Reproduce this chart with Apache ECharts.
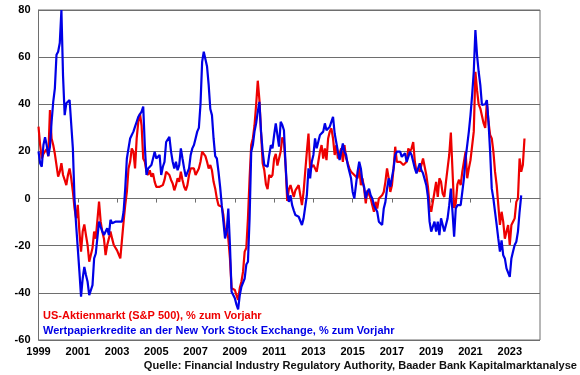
<!DOCTYPE html>
<html>
<head>
<meta charset="utf-8">
<script src="https://cdn.jsdelivr.net/npm/echarts@6/dist/echarts.min.js"></script>
<style>
html,body{margin:0;padding:0;background:#fff;}
#chart{width:580px;height:375px;}
</style>
</head>
<body>
<div id="chart"></div>
<script>
// Monthly values, starting January 1999 (year-over-year change, %)
const startYear = 1999;
const redValues = [
30.5, 22.7, 17, 19, 20, 21, 18, 37.6, 25.5, 22.7,
19, 18.5, 9.3, 11.4, 15, 10, 7.9, 5.7, 10, 12.8,
8.6, 3, -4, -8.4, -2.7, -14, -22.5, -14, -11, -15.5,
-19.7, -26.8, -27.5, -21, -14, -17, -17, -1.3, -9.8, -14,
-17, -24, -19.7, -17, -14, -17, -19.7, -19.7, -22, -22.5,
-25.4, -26, -9.8, -2.8, 2.8, 12.8, 15.6, 21.3, 19.9, 12.8,
25.5, 32.6, 36, 31, 17, 15.6, 11.4, 10, 12, 9.3,
10.7, 7.1, 5, 5.7, 5, 5, 5.7, 7.9, 11.4, 12,
10, 7.9, 6.4, 3.5, 5.7, 8.6, 7.1, 11.4, 7.9, 5,
3.5, 5.7, 10, 12.8, 13.5, 12.8, 10, 11.4, 12.8, 15.6,
19.9, 19.9,
18, 15.6, 12.8, 14.2, 12, 7.1, 4.2, 0, -2.8, -2.8,
-3.5, -7, -14, -12.6, -17, -25.4, -38, -38.8, -38.8, -41,
-43, -38, -35.3, -31, -22.5, -21, -8.4, 8.6, 22.7, 25.5,
31, 39.7, 50, 42, 28, 15, 12, 6, 4, 10,
9, 10, 17, 19, 14, 14, 20, 26, 24, 14,
-1, 4,
5.7, 5, 0.7, 3.5, 4.2, 5.7, 1.4, -2.8, 2.8, 11.4,
19.9, 27.6, 12.8, 13.5, 14.2, 13.5, 11.4, 15.6, 19.9, 22.7,
17, 21.3, 16.3, 25.5, 28.4, 29.8, 25.5, 18.5, 22.7, 17,
19.2, 21.3, 15.6, 22.7, 17, 15, 12.8, 11.4, 10.7, 10,
10.7, 8.6, 13.5, 5.7, 8.6, 4.2, -2, 3.5, 4.2, 0,
-2.8, -5.6,
-1.4, -4.2, 0, 0, 1.4, 2.8, 7.1, 12.8, 8.6, 2.8,
5.7, 12.8, 22, 15.6, 15, 15.6, 15, 14.2, 14.2, 15.6,
21.3, 19.9, 21.3, 24, 15.6, 11.4, 12.8, 11.4, 14.2, 17,
16.3, 10, 5, -2.8, -5.6, -1.4, 2.8, 7.1, 0.7, 8.6,
7.1, 2.1, 0.7, 7.1, 12.8, 18.5, 28, 12, -4, -2,
6, 8,
5.7, 11.4, 15.6, 19.9, 8.6, 12.8, 16.3, 15.6, 28.4, 53.8,
46, 40, 38.3, 37.5, 32, 30, 41, 32.6, 27, 25.5,
19.9, 11.4, 5.7, -2.8, -11.2, -5.6, -9.8, -17, -14, -11.2,
-19.7, -11.2, -9.8, -8.4, -1.4, 0, 17, 11.4, 14.2, 25.5
];
const blueValues = [
20, 15, 13.5, 22.7, 26, 22.7, 18, 22, 32.6, 41,
46.8, 61, 62.3, 66, 80, 52, 35.4, 40.4, 39.7, 41.8,
42.5, 21.3, 0, -11.2, -21, -31, -41.6, -33.9, -29, -32.4,
-35.3, -41, -41.6, -36.7, -25.4, -23.3, -22.5, -9.8, -12, -14,
-15.5, -14, -12.6, -15.5, -9, -10.5, -9.8, -9.8, -9, -9.8,
-9.8, -9.8, -5.6, 4.2, 17, 21.3, 25.5, 27, 28.4, 30.5,
32.6, 34.7, 35.4, 36.9, 39, 22, 10, 12.8, 12.8, 14.2,
17, 19.9, 17, 17.7, 18.5, 10, 13.5, 15.6, 24, 24,
26.2, 19.9, 15.6, 12.8, 15.6, 12, 14.2, 21.3, 17, 12.8,
9.3, 8.6, 12.8, 18.5, 21.3, 22.7, 25.5, 28.4, 30, 40,
58, 62.3,
62.3, 56, 48.2, 38, 35.4, 25.5, 18, 17, 11.4, 5,
-2.8, -9.8, -16.9, -14, -4.2, -19.7, -39.5, -39.5, -42.3, -45,
-47, -41, -37.4, -37.4, -33.9, -28, -26.8, -8.4, 19.9, 22.7,
28.4, 31.9, 36.9, 41, 28.4, 19.9, 14.2, 13.5, 13.5, 18.5,
22.7, 21.3, 27, 31.9, 27, 22, 32.6, 31.2, 29, 14.2,
2.8, -1.4,
1.4, -2.8, -5, -7, -7, -7.7, -7.7, -11.2, -8.4, -9,
1.4, 12.8, 8.6, 15.6, 18.5, 25.5, 21.3, 22, 27, 27.6,
28.4, 31.9, 29, 29.8, 30.5, 31.2, 34.7, 27.6, 28.4, 19.9,
16.3, 19.9, 23.4, 19.9, 18.5, 14.2, 11.4, 8.6, 2.8, 0,
5.7, 11.4, 15.6, 12.8, 7.1, 5, 0, 2.8, 4.2, 1.4,
0, -2.8,
-2.8, -5.6, -9.8, -9.8, -11.2, -4.2, -1.4, 4.2, 8.6, 5,
5.7, 12.8, 18.5, 19.9, 19.2, 19.9, 17.7, 17, 19.2, 15.6,
17.7, 19.9, 18.5, 15.6, 12.8, 10.7, 11.4, 15, 12, 10.7,
10, 5.7, 0.7, -9.8, -14, -14, -9.8, -14, -9.8, -15.5,
-8.4, -7.7, -14, -14.8, -8.4, -2.8, 4.2, -5.6, -16.2, -4.2,
-2.8, -2.1,
-2.8, 2.8, 8.6, 17, 22.7, 28.4, 35.4, 43.9, 53.8, 71.5,
60.9, 53.8, 48.2, 39.7, 39.5, 40, 41.8, 32.6, 19.9, 4.2,
0, -5.6, -11.2, -17, -22.5, -17.7, -24, -25.4, -29.6, -30.3,
-33.2, -25.4, -22.5, -19.7, -18.3, -14, -5.6, 1.4
];
const xTickYears = [1999, 2001, 2003, 2005, 2007, 2009, 2011, 2013, 2015, 2017, 2019, 2021, 2023];
const yTicks = [-60, -40, -20, 0, 20, 40, 60, 80];
const redName = 'US-Aktienmarkt (S&P 500), % zum Vorjahr';
const blueName = 'Wertpapierkredite an der New York Stock Exchange, % zum Vorjahr';
const sourceText = 'Quelle: Financial Industry Regulatory Authority, Baader Bank Kapitalmarktanalyse';

const toPairs = arr => arr.map((v, i) => [startYear + i / 12, v]);
const FONT = "'Liberation Sans', Arial, sans-serif";
const RED = '#ee0000';
const BLUE = '#0000e6';
const GRAY = '#6e6e6e';

const chart = echarts.init(document.getElementById('chart'), null, {renderer: 'canvas'});
chart.setOption({
  animation: false,
  backgroundColor: '#fff',
  grid: {left: 38.5, right: 40, top: 10, bottom: 35, show: true, borderColor: GRAY, borderWidth: 1, containLabel: false},
  xAxis: {
    type: 'value',
    min: xTickYears[0],
    max: 2024.54,
    interval: 2,
    axisLine: {show: true, lineStyle: {color: GRAY, width: 1}},
    axisTick: {show: true, length: 4, lineStyle: {color: GRAY}},
    splitLine: {show: false},
    axisLabel: {
      margin: 6,
      color: '#000', fontFamily: FONT, fontWeight: 'bold', fontSize: 11,
      showMaxLabel: false,
      formatter: v => xTickYears.indexOf(Math.round(v)) >= 0 && Math.abs(v - Math.round(v)) < 1e-6 ? String(Math.round(v)) : ''
    }
  },
  yAxis: {
    type: 'value',
    min: yTicks[0],
    max: yTicks[yTicks.length - 1],
    interval: 20,
    axisLine: {show: true, lineStyle: {color: GRAY, width: 1}},
    axisTick: {show: false},
    splitLine: {show: true, lineStyle: {color: GRAY, width: 1}},
    axisLabel: {margin: 8, color: '#000', fontFamily: FONT, fontWeight: 'bold', fontSize: 11}
  },
  series: [
    {name: redName, type: 'line', data: toPairs(redValues), showSymbol: false, symbol: 'none',
     lineStyle: {color: RED, width: 2.2}, itemStyle: {color: RED}, z: 2},
    {name: blueName, type: 'line', data: toPairs(blueValues), showSymbol: false, symbol: 'none',
     lineStyle: {color: BLUE, width: 2.2}, itemStyle: {color: BLUE}, z: 3}
  ],
  graphic: [
    {type: 'text', left: 43, top: 310.5, z: 10,
     style: {text: redName, fill: RED, font: "bold 11px 'Liberation Sans', Arial, sans-serif"}},
    {type: 'text', left: 43, top: 325.5, z: 10,
     style: {text: blueName, fill: BLUE, font: "bold 11px 'Liberation Sans', Arial, sans-serif"}},
    {type: 'text', right: 3, top: 360, z: 10,
     style: {text: sourceText, fill: '#111', font: "bold 11.1px 'Liberation Sans', Arial, sans-serif"}}
  ]
});
</script>
</body>
</html>
